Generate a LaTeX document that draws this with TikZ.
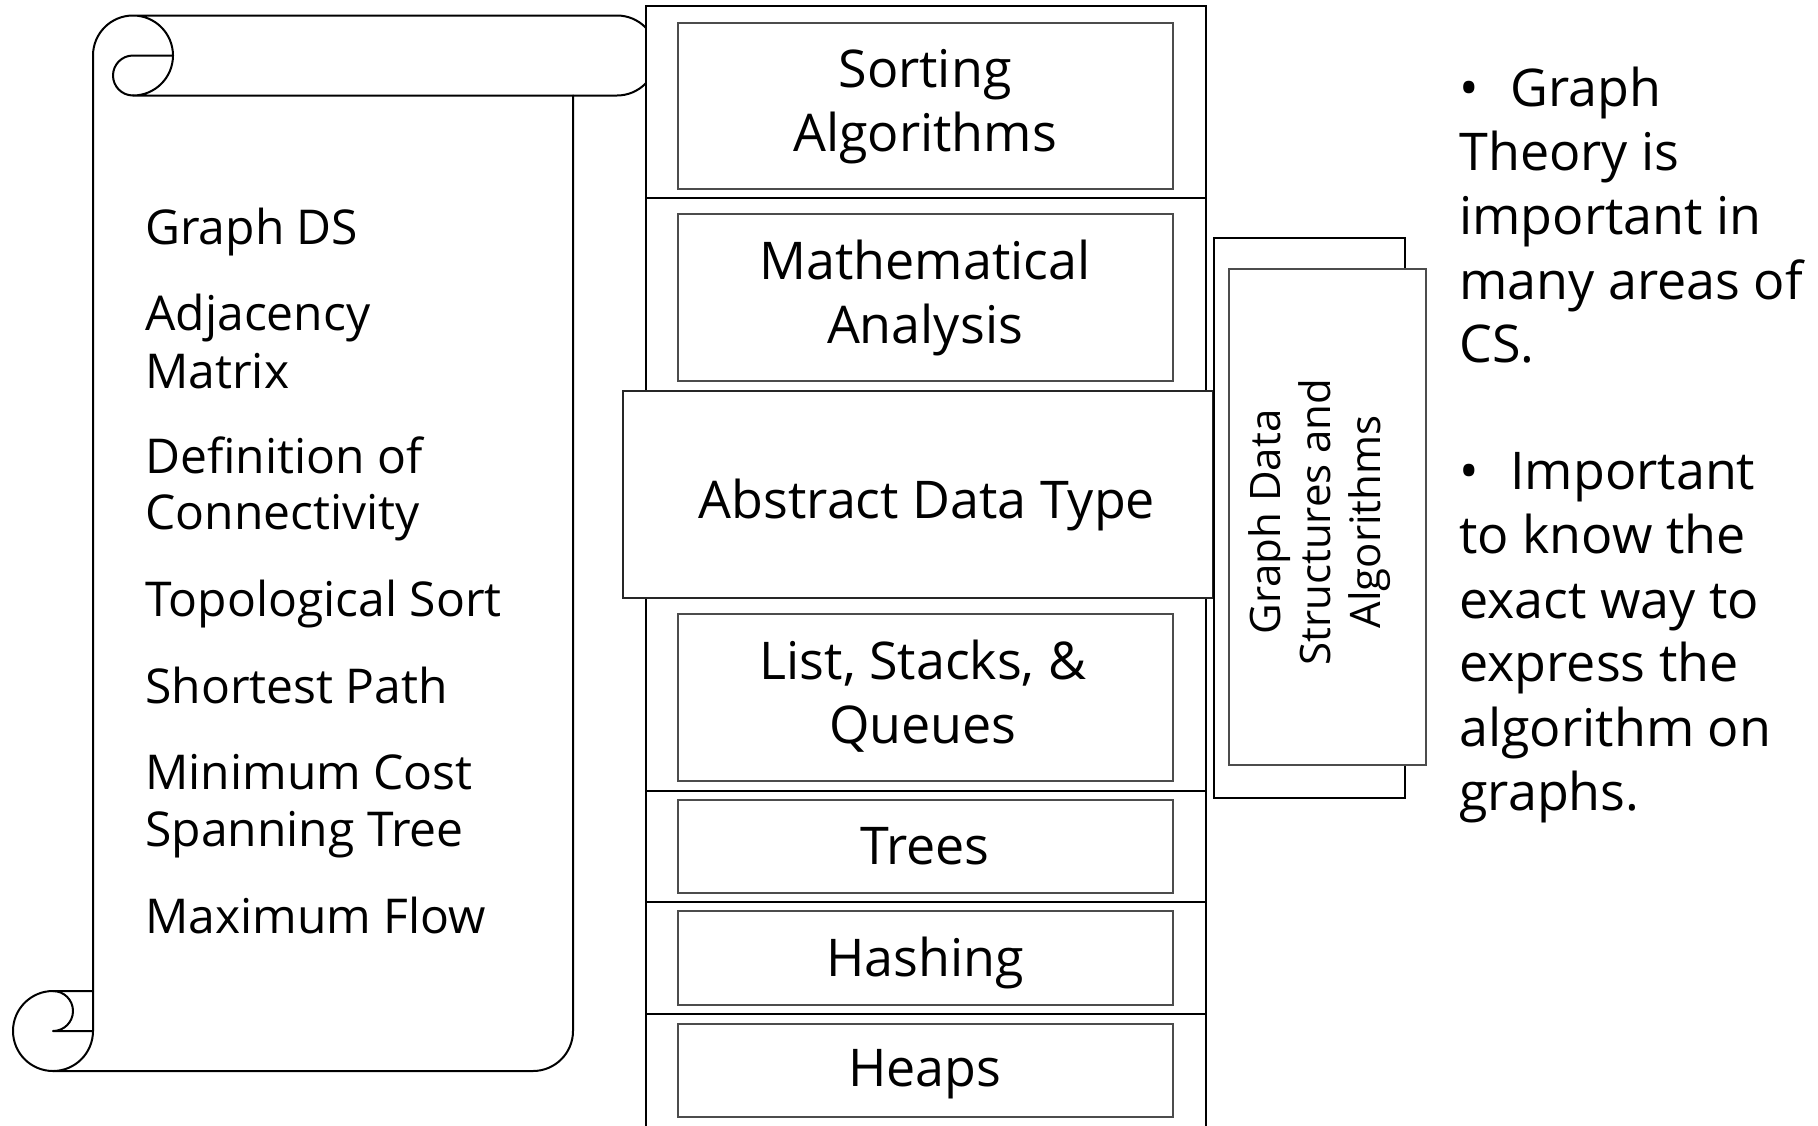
\documentclass[tikz,border=0pt]{standalone}
\usepackage{fontspec}
\setmainfont{Open Sans}
\tikzset{
  scr/.style={line width=1pt, line join=round, line cap=round},
  spinebox/.style={draw, line width=0.9pt, fill=white, inner sep=0pt},
  divl/.style={line width=0.9pt},
  inbox/.style={draw=black!70, line width=0.6pt, fill=white, minimum width=247.5pt, inner sep=0pt},
  adtframe/.style={draw=black!85, line width=0.9pt, fill=white, inner sep=0pt},
  backframe/.style={draw, line width=0.9pt, fill=white, inner sep=0pt},
  frontframe/.style={draw=black!70, line width=0.6pt, fill=white, inner sep=0pt},
  lbl/.style={align=center, font=\fontsize{26pt}{32pt}\selectfont, inner sep=0pt},
  vlbl/.style={align=center, rotate=90, font=\fontsize{21pt}{25pt}\selectfont, inner sep=0pt},
  lefttxt/.style={anchor=base west, font=\fontsize{24pt}{29pt}\selectfont, inner sep=0pt},
  righttxt/.style={anchor=base west, font=\fontsize{26pt}{32pt}\selectfont, inner sep=0pt}
}
\begin{document}
\begin{tikzpicture}[x=0.5pt, y=-0.5pt]
  % page
  \fill[white] (0,0) rectangle (1818,1125);
  \useasboundingbox (0,0) rectangle (1818,1125);

  % ---- scroll ----
  % left edge, upper roll and its rounded right end
  \draw[scr] (93,1031) -- (93,55.5) arc[start angle=180, end angle=-90, radius=20pt]
        -- (617,95.5) arc[start angle=-90, end angle=90, radius=20pt] -- (133,15.5);
  % inner curl of the upper roll
  \draw[scr] (173,55.5) -- (133,55.5) arc[start angle=90, end angle=270, radius=10pt];
  % right edge with rounded lower corner and bottom edge
  \draw[scr] (573,95.5) -- (573,1031) arc[start angle=0, end angle=-90, radius=20pt] -- (53,1071);
  % lower roll
  \draw[scr] (93,1031) arc[start angle=0, end angle=-270, radius=20pt] -- (93,991);
  \draw[scr] (53,991) arc[start angle=90, end angle=-90, radius=10pt] -- (93,1031);

  % scroll text
  \node[lefttxt] (l1)  at (145,244) {Graph DS};
  \node[lefttxt] (l2a) at (145,330) {Adjacency};
  \node[lefttxt] (l2b) at (145,388) {Matrix};
  \node[lefttxt] (l3a) at (145,473) {Definition of};
  \node[lefttxt] (l3b) at (145,529) {Connectivity};
  \node[lefttxt] (l4)  at (145,616) {Topological Sort};
  \node[lefttxt] (l5)  at (145,703) {Shortest Path};
  \node[lefttxt] (l6a) at (145,789) {Minimum Cost};
  \node[lefttxt] (l6b) at (145,846) {Spanning Tree};
  \node[lefttxt] (l7)  at (145,933) {Maximum Flow};

  % ---- book spine ----
  \node[spinebox, minimum width=280pt, minimum height=562pt] (spine) at (926,568) {};
  \draw[divl] (646,198) -- (1206,198);
  \draw[divl] (646,791) -- (1206,791);
  \draw[divl] (646,902) -- (1206,902);
  \draw[divl] (646,1014) -- (1206,1014);

  \node[inbox, minimum height=83pt]   (sortbox) at (925.5,106)   {};
  \node[inbox, minimum height=83.5pt] (mathbox) at (925.5,297.5) {};
  \node[inbox, minimum height=83.5pt] (listbox) at (925.5,697.5) {};
  \node[inbox, minimum height=46.5pt] (treebox) at (925.5,846.5) {};
  \node[inbox, minimum height=47pt]   (hashbox) at (925.5,958)   {};
  \node[inbox, minimum height=46.5pt] (heapbox) at (925.5,1070.5) {};
  \node[adtframe, minimum width=295pt, minimum height=103.5pt] (adtbox) at (918,494.5) {};

  \node[lbl] (sortlbl) at (925,107)  {Sorting\\Algorithms};
  \node[lbl] (mathlbl) at (925,298)  {Mathematical\\Analysis};
  \node[lbl] (adtlbl)  at (927,505)  {Abstract Data Type};
  \node[lbl] (listlbl) at (923,696)  {List, Stacks, \&\\Queues};
  \node[lbl] (treelbl) at (925,846)  {Trees};
  \node[lbl] (hashlbl) at (925,963)  {Hashing};
  \node[lbl] (heaplbl) at (925,1074) {Heaps};

  % ---- upright volume ----
  \node[backframe, minimum width=95.5pt, minimum height=280pt] (gback) at (1309.5,518) {};
  \node[frontframe, minimum width=98.5pt, minimum height=248pt] (gfront) at (1327.5,517) {};
  \node[vlbl] (glbl) at (1320,522) {Graph Data\\Structures and\\Algorithms};

  % ---- notes ----
  \node[righttxt] (b1)  at (1459,106) {•};
  \node[righttxt] (r1)  at (1510,106) {Graph};
  \node[righttxt] (r2)  at (1459,170) {Theory is};
  \node[righttxt] (r3)  at (1459,234) {important in};
  \node[righttxt] (r4)  at (1459,299) {many areas of};
  \node[righttxt] (r5)  at (1459,362) {CS.};
  \node[righttxt] (b2)  at (1459,489) {•};
  \node[righttxt] (s1)  at (1510,489) {Important};
  \node[righttxt] (s2)  at (1459,553) {to know the};
  \node[righttxt] (s3)  at (1459,618) {exact way to};
  \node[righttxt] (s4)  at (1459,681) {express the};
  \node[righttxt] (s5)  at (1459,746) {algorithm on};
  \node[righttxt] (s6)  at (1459,810) {graphs.};
\end{tikzpicture}
\end{document}
